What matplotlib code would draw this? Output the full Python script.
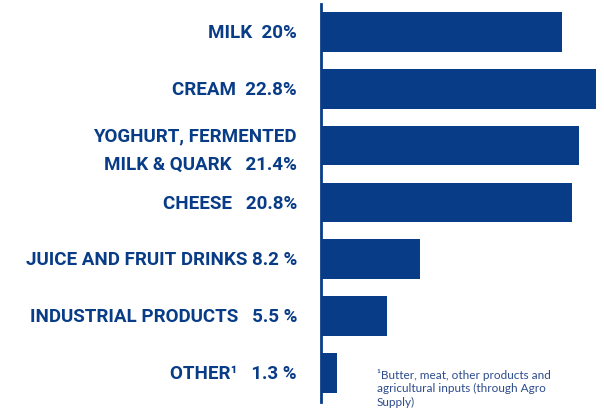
import matplotlib
matplotlib.use("Agg")
import matplotlib.pyplot as plt
from matplotlib import font_manager

categories = ["MILK", "CREAM", "YOGHURT, FERMENTED\nMILK & QUARK", "CHEESE",
              "JUICE AND FRUIT DRINKS", "INDUSTRIAL PRODUCTS", "OTHER¹"]
values = [20.0, 22.8, 21.4, 20.8, 8.2, 5.5, 1.3]
value_labels = ["20%", "22.8%", "21.4%", "20.8%", "8.2 %", "5.5 %", "1.3 %"]
separators = ["  ", "  ", "   ", "   ", " ", "   ", "   "]
footnote = "¹Butter, meat, other products and\nagricultural inputs (through Agro\nSupply)"

navy = "#083c87"

avail = {f.name for f in font_manager.fontManager.ttflist}
label_font = "DejaVu Sans"
for cand in ["Liberation Sans Narrow", "DejaVu Sans Condensed", "Roboto", "Liberation Sans"]:
    if cand in avail:
        label_font = cand
        break
note_font = "Lato" if "Lato" in avail else "DejaVu Sans"

W, H = 604, 418
fig = plt.figure(figsize=(W / 100, H / 100), dpi=100)
ax_left, ax_right = 321 / W, 1.0
ax_top, ax_bot = 1 - 4 / H, 1 - 402 / H
ax = fig.add_axes([ax_left, ax_bot, ax_right - ax_left, ax_top - ax_bot])

y = list(range(len(values)))
ax.barh(y, values, height=0.70, color=navy, edgecolor="none")
ax.set_xlim(0, (W - 321) / 12.05)
ax.set_ylim(6.51, -0.49)
for s in ["top", "right", "bottom"]:
    ax.spines[s].set_visible(False)
ax.spines["left"].set_color(navy)
ax.spines["left"].set_linewidth(2.0)
ax.set_xticks([])
ax.set_yticks([])

texts = []
for yi, cat, sep, vl in zip(y, categories, separators, value_labels):
    off = 0.09 if "\n" in cat else 0.02
    t = ax.text(-24 / 12.05, yi + off, cat + sep + vl, ha="right", va="center",
                fontsize=18, fontweight="bold", color=navy, family=label_font,
                linespacing=1.7, transform=ax.transData)
    texts.append(t)

fig.canvas.draw()
r = fig.canvas.get_renderer()
wid = texts[4].get_window_extent(r).width
scale = 272 / wid
for t in texts:
    t.set_fontsize(18 * scale)

fig.text(377 / W, 1 - 369 / H, footnote, ha="left", va="top", fontsize=8.5,
         color="#2d4b8c", family=note_font, linespacing=1.25)

fig.savefig("out.png", dpi=100)
